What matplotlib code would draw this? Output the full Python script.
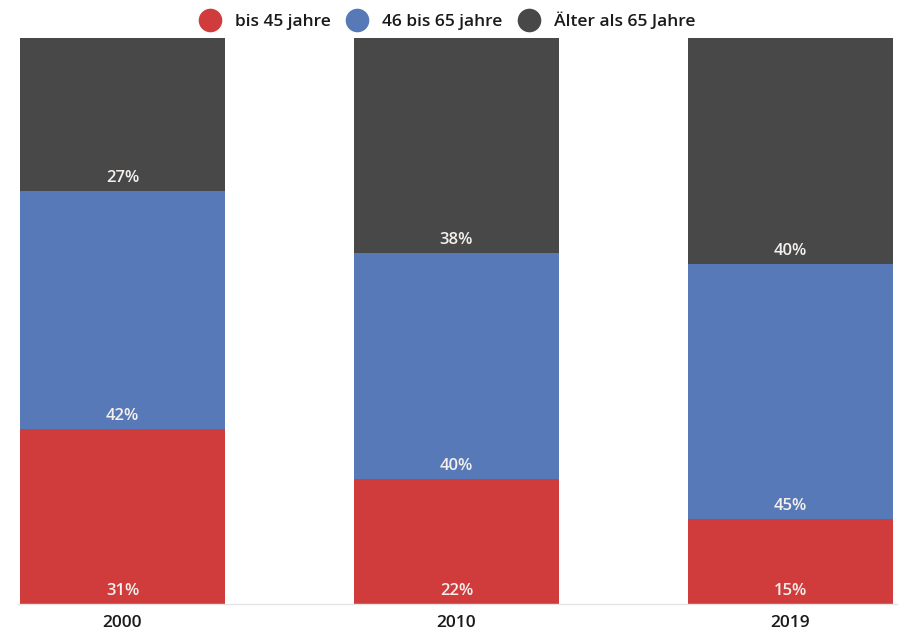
import matplotlib
matplotlib.use("Agg")
import matplotlib.pyplot as plt
from matplotlib.lines import Line2D

plt.rcParams["font.family"] = ["Open Sans", "DejaVu Sans"]

years = ["2000", "2010", "2019"]
bis45 = [31, 22, 15]
bis65 = [42, 40, 45]
ueber65 = [27, 38, 40]
series_names = ["bis 45 jahre", "46 bis 65 jahre", "Älter als 65 Jahre"]
colors = ["#d03c3c", "#5779b7", "#484848"]

W, H = 899, 633
fig = plt.figure(figsize=(W / 100, H / 100), dpi=100)
ax = fig.add_axes([18 / W, (H - 604) / H, (897 - 18) / W, 566 / H])

x = list(range(len(years)))
bottom = [0] * len(years)
for vals, col in zip([bis45, bis65, ueber65], colors):
    ax.bar(x, vals, width=0.614, bottom=bottom, color=col, linewidth=0)
    for xi, b, v in zip(x, bottom, vals):
        ax.annotate("%d%%" % v, (xi, b), xytext=(0, 6.5), textcoords="offset points",
                    ha="center", va="baseline", color="#f4f0ee", fontsize=12,
                    fontweight="semibold")
    bottom = [b + v for b, v in zip(bottom, vals)]

ax.set_xlim((18 - 122.5) / 334, (897 - 122.5) / 334)
ax.set_ylim(0, 100)
ax.set_xticks(x)
ax.set_xticklabels(years, fontsize=12.5, color="#1a1a1a", fontweight="semibold")
ax.tick_params(axis="x", length=0, pad=8)
ax.set_yticks([])
for s in ["top", "left", "right"]:
    ax.spines[s].set_visible(False)
ax.spines["bottom"].set_color("#e4e4e4")
ax.spines["bottom"].set_linewidth(1)

handles = [Line2D([], [], marker="o", ls="", markersize=17, markerfacecolor=c,
                  markeredgewidth=0) for c in colors]
fig.legend(handles, series_names, loc="upper center", bbox_to_anchor=(0.494, 1.005),
           ncol=3, frameon=False, handletextpad=0.45, columnspacing=0.5,
           labelcolor="#1a1a1a", prop={"size": 12.5, "weight": "semibold"})

fig.savefig("out.png", dpi=100)
